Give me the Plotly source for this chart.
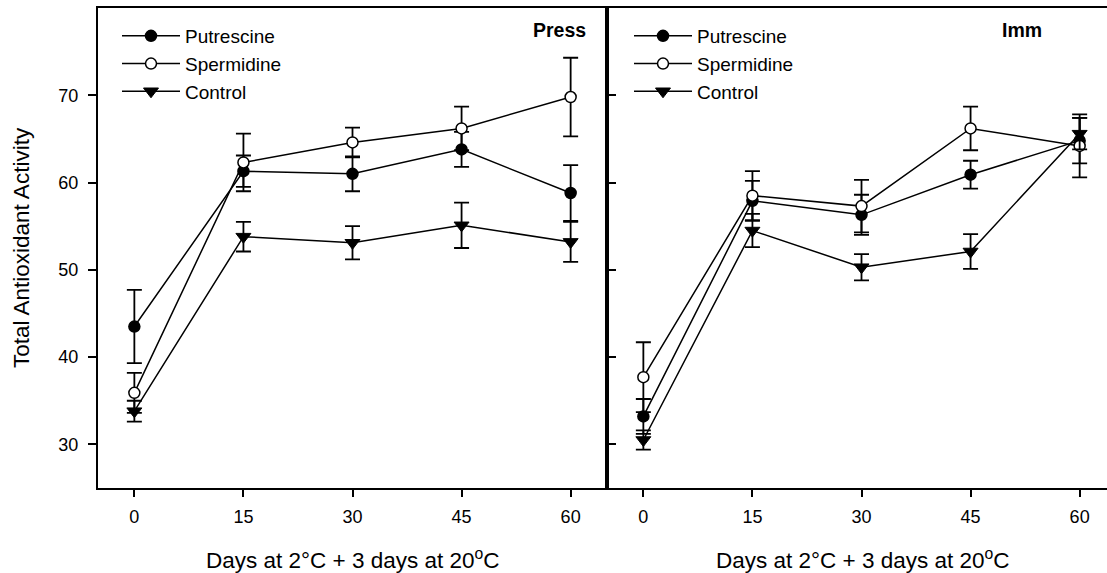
import plotly.graph_objects as go

# ---------------- data ----------------
days = [0, 15, 30, 45, 60]
x_ticks = [0, 15, 30, 45, 60]
y_ticks = [30, 40, 50, 60, 70]

press_putrescine = [43.5, 61.3, 61.0, 63.8, 58.8]
press_putrescine_err = [4.2, 1.8, 2.0, 2.0, 3.2]
press_spermidine = [35.9, 62.3, 64.6, 66.2, 69.8]
press_spermidine_err = [2.3, 3.3, 1.7, 2.5, 4.5]
press_control = [33.8, 53.8, 53.1, 55.1, 53.2]
press_control_err = [1.2, 1.7, 1.9, 2.6, 2.3]

imm_putrescine = [33.2, 57.9, 56.3, 60.9, 64.8]
imm_putrescine_err = [2.0, 2.3, 2.3, 1.6, 2.6]
imm_spermidine = [37.7, 58.5, 57.3, 66.2, 64.2]
imm_spermidine_err = [4.0, 2.8, 3.0, 2.5, 3.6]
imm_control = [30.5, 54.5, 50.3, 52.1, 65.6]
imm_control_err = [1.1, 1.9, 1.5, 2.0, 1.8]

series_names = ["Putrescine", "Spermidine", "Control"]
panel_labels = ["Press", "Imm"]
x_title = "Days at 2°C + 3 days at 20<sup>o</sup>C"
y_title = "Total Antioxidant Activity"

# ---------------- style ----------------
FONT = "Liberation Sans, Arial, sans-serif"
W, H = 1107, 573
ML, MR, MT, MB = 98, 0, 8, 85
PW, PH = W - ML - MR, H - MT - MB
split = (607 - ML) / PW

def px(xp):
    return (xp - ML) / PW

def py(yp):
    return (H - MB - yp) / PH

marker_styles = {
    "Putrescine": dict(symbol="circle", size=11, color="black",
                       line=dict(color="black", width=1.5)),
    "Spermidine": dict(symbol="circle", size=11, color="white",
                       line=dict(color="black", width=1.5)),
    "Control": dict(symbol="triangle-down", size=13, color="black",
                    line=dict(color="black", width=1)),
}

fig = go.Figure()

panels = [
    ("x", "y", "legend",
     [press_putrescine, press_spermidine, press_control],
     [press_putrescine_err, press_spermidine_err, press_control_err]),
    ("x2", "y2", "legend2",
     [imm_putrescine, imm_spermidine, imm_control],
     [imm_putrescine_err, imm_spermidine_err, imm_control_err]),
]

for xa, ya, lg, vals, errs in panels:
    for name, v, e in zip(series_names, vals, errs):
        fig.add_trace(go.Scatter(
            x=days, y=v, name=name, mode="lines+markers",
            xaxis=xa, yaxis=ya, legend=lg,
            line=dict(color="black", width=1.5),
            marker=marker_styles[name],
            error_y=dict(type="data", array=e, visible=True,
                         color="black", thickness=1.8, width=7.5),
        ))

axis_common = dict(showgrid=False, zeroline=False, linecolor="black",
                   linewidth=2, tickcolor="black", tickwidth=1.5,
                   tickfont=dict(family=FONT, size=18, color="black"))

legend_common = dict(xanchor="left", yanchor="top", bgcolor="rgba(0,0,0,0)",
                     font=dict(family=FONT, size=19), tracegroupgap=0,
                     itemwidth=58)

fig.update_layout(
    width=W, height=H,
    margin=dict(l=ML, r=MR, t=MT, b=MB),
    paper_bgcolor="white", plot_bgcolor="white",
    font=dict(family=FONT, color="black"),
    xaxis=dict(domain=[0, split], range=[-5, 65], tickvals=x_ticks,
               ticks="outside", ticklen=7, mirror=True, anchor="y",
               ticklabelstandoff=4, **axis_common),
    yaxis=dict(domain=[0, 1], range=[25, 80], tickvals=y_ticks,
               ticks="outside", ticklen=8, mirror=True, anchor="x",
               ticklabelstandoff=6, **axis_common),
    xaxis2=dict(domain=[split, 1], range=[-5, -5 + 70 * (PW - split * PW) / (split * PW)],
                tickvals=x_ticks, ticks="outside", ticklen=7, mirror=True,
                anchor="y2", ticklabelstandoff=4, **axis_common),
    yaxis2=dict(domain=[0, 1], range=[25, 80], tickvals=y_ticks,
                ticks="inside", ticklen=9, showticklabels=False,
                mirror=False, anchor="x2", **axis_common),
    legend=dict(x=px(117), y=py(17), **legend_common),
    legend2=dict(x=px(629), y=py(17), **legend_common),
    showlegend=True,
)

# divider between panels
fig.add_shape(type="line", xref="paper", yref="paper", x0=split, x1=split,
              y0=0, y1=1, line=dict(color="black", width=3.5))

annotations = [
    dict(text="<b>" + panel_labels[0] + "</b>", x=px(588), y=py(30),
         xanchor="right", yanchor="middle", font=dict(size=19.5)),
    dict(text="<b>" + panel_labels[1] + "</b>", x=px(1022), y=py(30),
         xanchor="center", yanchor="middle", font=dict(size=19.5)),
    dict(text=x_title, x=px(353), y=py(559), xanchor="center",
         yanchor="middle", font=dict(size=22.5)),
    dict(text=x_title, x=px(863), y=py(559), xanchor="center",
         yanchor="middle", font=dict(size=22.5)),
    dict(text=y_title, x=px(21), y=py(248), xanchor="center",
         yanchor="middle", textangle=-90, font=dict(size=22.5)),
]
for a in annotations:
    a.update(xref="paper", yref="paper", showarrow=False)
    a["font"].update(family=FONT, color="black")
    fig.add_annotation(**a)

fig.write_html("out.html",
               config={"displayModeBar": False},
               post_script="document.body.style.margin='0';"
                           "document.body.style.overflow='hidden';")
